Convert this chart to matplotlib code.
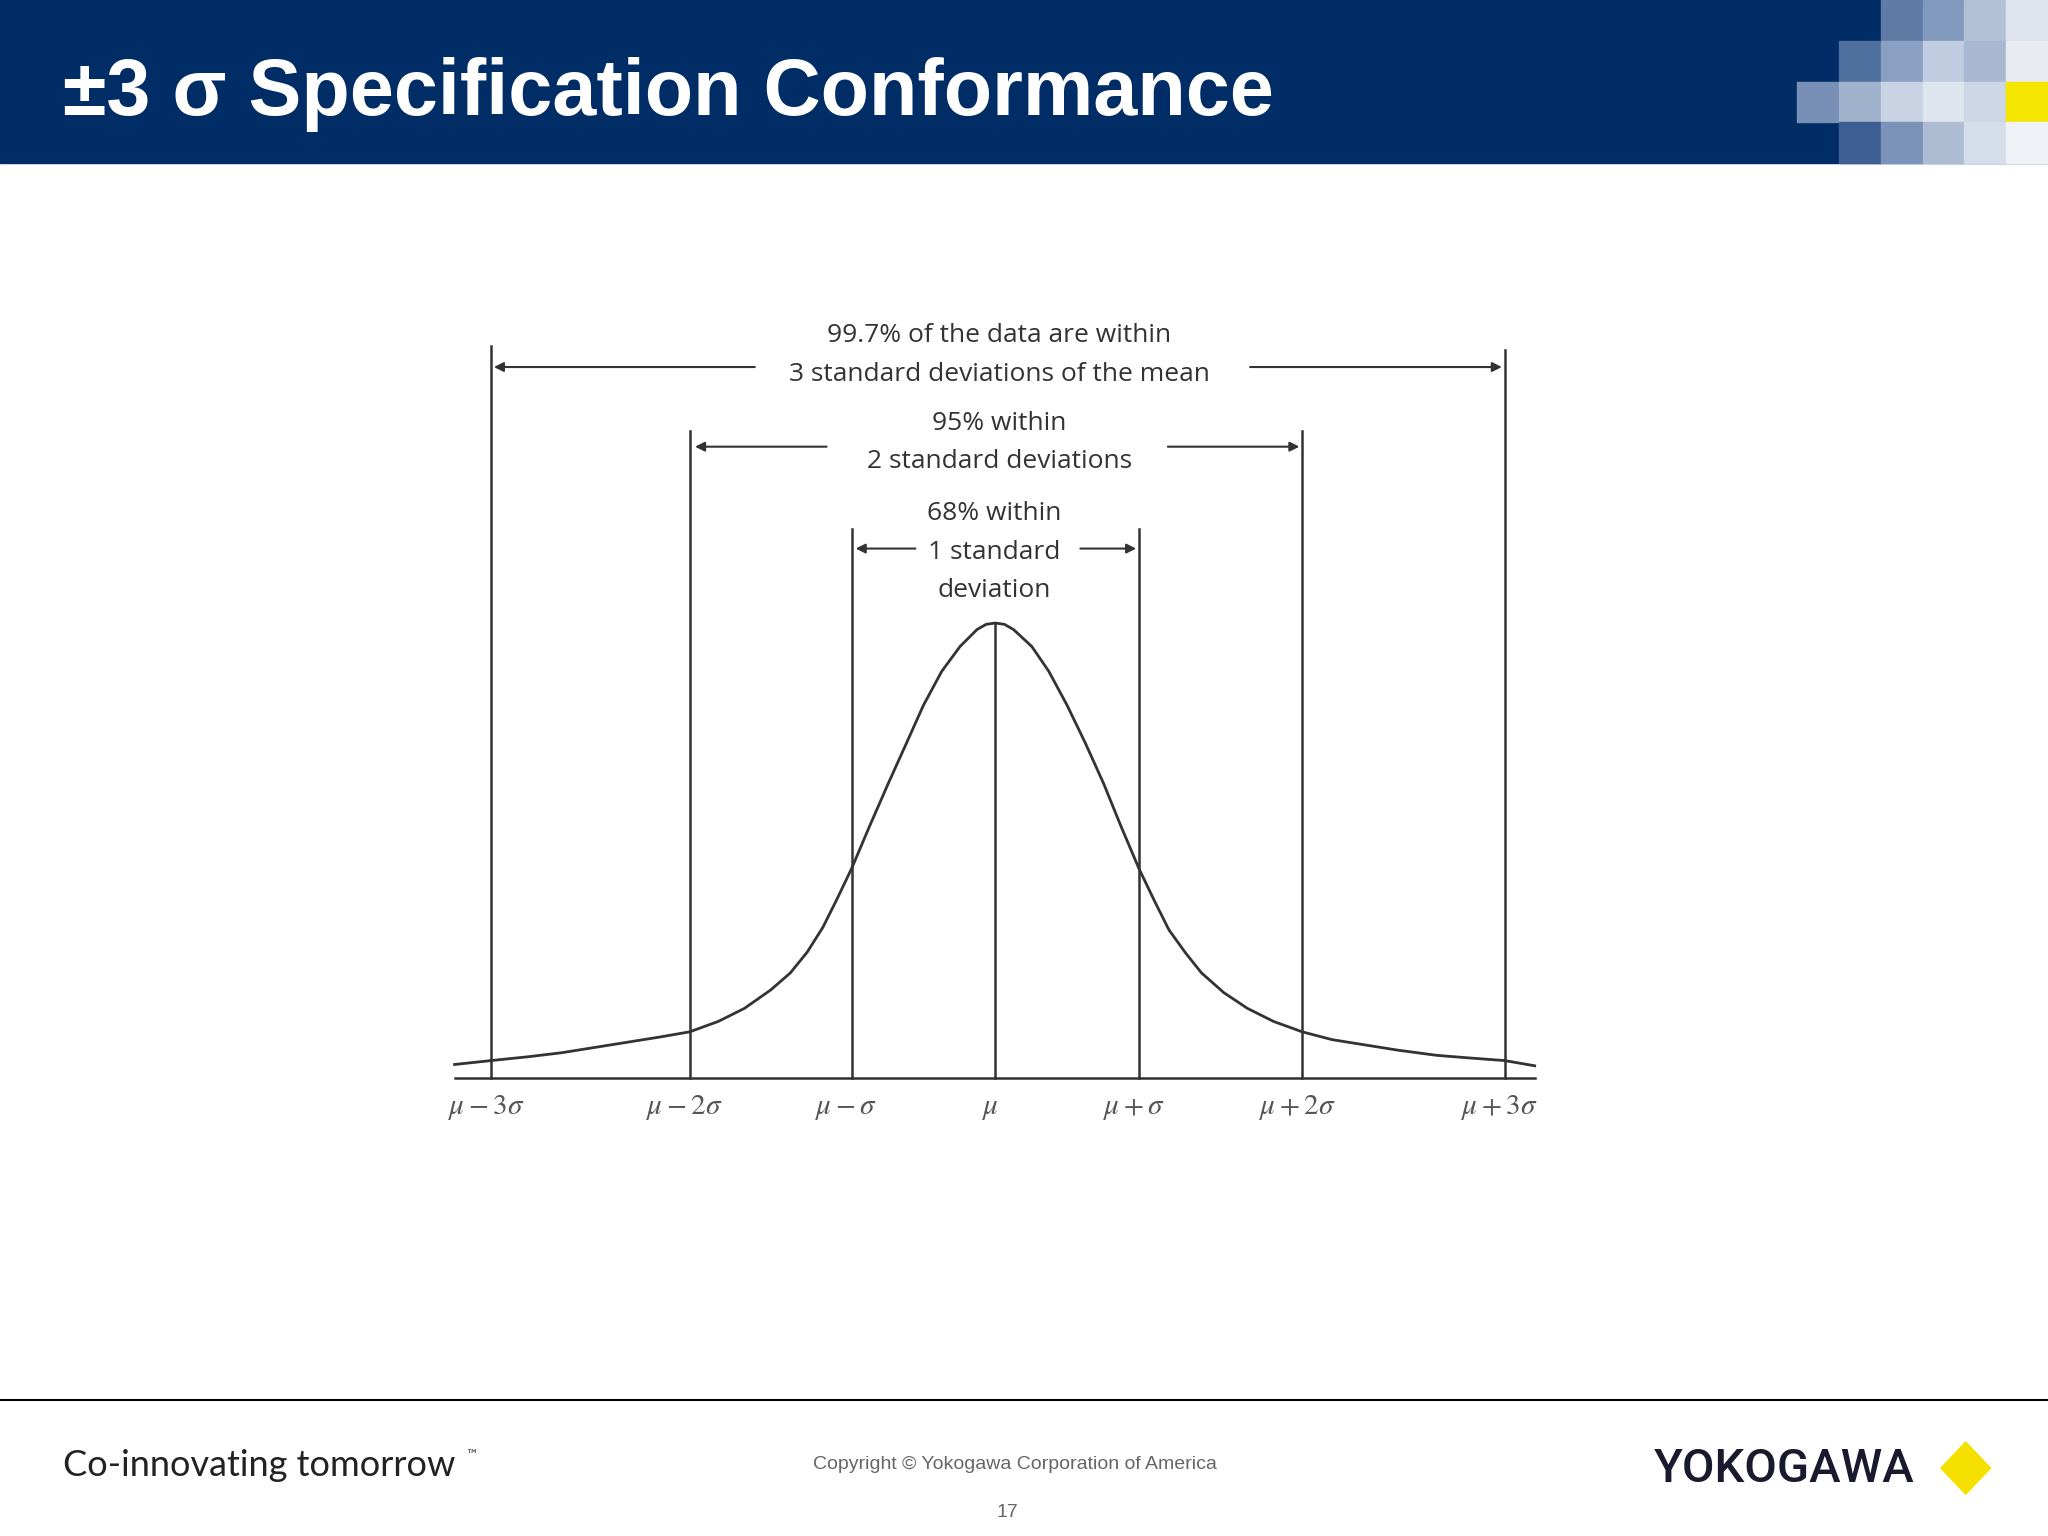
import matplotlib
matplotlib.use("Agg")
import matplotlib.pyplot as plt
from matplotlib.patches import Rectangle, Polygon

plt.rcParams["mathtext.fontset"] = "stix"

# curve (slide px coords, y grows downward)
curve_x = [348, 376, 405, 430, 455, 480, 505, 528, 550, 570, 590, 605, 618, 630,
           641, 652, 666, 680, 694, 707, 721, 735, 748, 755, 762,
           769, 776, 790, 803, 817, 831, 845, 858, 872, 884, 895, 908, 920, 937,
           955, 975, 997, 1020, 1045, 1070, 1100, 1125, 1152, 1175]
curve_y = [815, 812, 809, 806, 802, 798, 794, 790, 782, 772, 758, 745, 729, 710,
           688, 665, 632, 600, 569, 540, 514, 495, 482, 478, 477,
           478, 482, 495, 514, 540, 569, 600, 632, 665, 690, 712, 730, 745, 760,
           772, 782, 790, 796, 800, 804, 808, 810, 812, 816]

tick_x = [376, 528, 652, 762, 872, 997, 1152]
tick_top = [265, 330, 405, 477, 405, 330, 268]
tick_labels = [r"$\mu - 3\sigma$", r"$\mu - 2\sigma$", r"$\mu - \sigma$", r"$\mu$",
               r"$\mu + \sigma$", r"$\mu + 2\sigma$", r"$\mu + 3\sigma$"]
baseline = 825

# arrows: (y, left start, left end, right start, right end)
arrows = [(281, 580, 376, 955, 1152),
          (342, 635, 530, 892, 997),
          (420, 703, 653, 825, 872)]
notes = [("99.7% of the data are within", 765, 257),
         ("3 standard deviations of the mean", 765, 287),
         ("95% within", 765, 324),
         ("2 standard deviations", 765, 353),
         ("68% within", 761, 393),
         ("1 standard", 761, 423),
         ("deviation", 761, 452)]

mosaic = {
    (0, 1440): "#5f7ba6", (0, 1472): "#8199bd", (0, 1504): "#b3c1d7", (0, 1536): "#dde4ee",
    (1, 1408): "#4f6f9f", (1, 1440): "#8aa0c2", (1, 1472): "#c0cde0", (1, 1504): "#a8b8d0", (1, 1536): "#e8ecf2",
    (2, 1376): "#7890b5", (2, 1408): "#a0b2cc", (2, 1440): "#c9d3e3", (2, 1472): "#dfe5ee", (2, 1504): "#ccd6e4", (2, 1536): "#f5e600",
    (3, 1408): "#3d5f93", (3, 1440): "#7b93b8", (3, 1472): "#aebcd3", (3, 1504): "#d5dde9", (3, 1536): "#eef1f5",
}

fig = plt.figure(figsize=(20.48, 15.36), dpi=100)
ax = fig.add_axes([0, 0, 1, 1])
ax.set_xlim(0, 1568)
ax.set_ylim(1176, 0)
ax.axis("off")

# header
ax.add_patch(Rectangle((0, 0), 1568, 125, color="#002d66", zorder=0))
for (r, x), c in mosaic.items():
    ax.add_patch(Rectangle((x, r * 31.25), 32, 31.25, color=c, zorder=1))
ax.text(48, 72, "±3 σ Specification Conformance", color="white", fontsize=57,
        fontweight="bold", family="Liberation Sans", va="center", ha="left")

# chart
lc = "#333333"
ax.plot(curve_x, curve_y, color=lc, lw=2)
ax.plot([348, 1175], [baseline, baseline], color=lc, lw=1.8)
for x, top, lab in zip(tick_x, tick_top, tick_labels):
    ax.plot([x, x], [top, baseline], color=lc, lw=1.8)
    ax.text(x - 4, 848, lab, fontsize=21, color="#555555", ha="center", va="center")
for y, ls, le, rs, re in arrows:
    ax.annotate("", xy=(le, y), xytext=(ls, y),
                arrowprops=dict(arrowstyle="-|>", color=lc, lw=1.5, mutation_scale=14))
    ax.annotate("", xy=(re, y), xytext=(rs, y),
                arrowprops=dict(arrowstyle="-|>", color=lc, lw=1.5, mutation_scale=14))
for t, x, y in notes:
    ax.text(x, y, t, fontsize=19, color="#333333", ha="center", va="center",
            family="Open Sans")

# footer
ax.plot([0, 1568], [1072, 1072], color="black", lw=1.5)
ax.text(48, 1122, "Co-innovating tomorrow", fontsize=26, color="#222222",
        ha="left", va="center", family="Lato")
ax.text(356, 1114, "™", fontsize=9, color="#222222", ha="left", va="center")
ax.text(777, 1121, "Copyright © Yokogawa Corporation of America", fontsize=14,
        color="#666666", ha="center", va="center", family="Liberation Sans")
ax.text(771, 1158, "17", fontsize=14, color="#666666", ha="center", va="center",
        family="Liberation Sans")
ax.text(1266, 1125, "YOKOGAWA", fontsize=34, color="#1a1a2e", ha="left",
        va="center", family="Roboto", fontweight="medium", fontstretch="condensed")
ax.add_patch(Polygon([(1505, 1104), (1524, 1124), (1505, 1144), (1486, 1124)],
                     closed=True, color="#f5e000"))

fig.savefig("out.png", dpi=100)
